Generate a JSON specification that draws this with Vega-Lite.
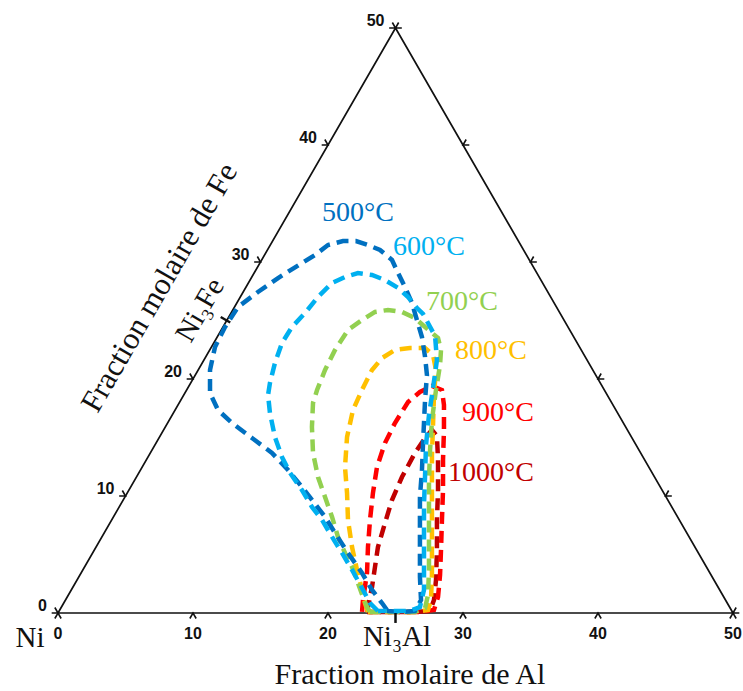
{
  "$schema": "https://vega.github.io/schema/vega-lite/v6.json",
  "width": 675,
  "height": 585,
  "autosize": {"type": "none"},
  "padding": {"left": 58, "top": 28, "right": 10, "bottom": 78},
  "background": "white",
  "config": {"view": {"stroke": null}},
  "datasets": {
    "curves": [
      {"T": "1000°C", "x": 22.89, "y": 0.09},
      {"T": "1000°C", "x": 22.96, "y": 0.51},
      {"T": "1000°C", "x": 23.26, "y": 2.22},
      {"T": "1000°C", "x": 23.48, "y": 3.93},
      {"T": "1000°C", "x": 23.70, "y": 5.64},
      {"T": "1000°C", "x": 24.22, "y": 7.69},
      {"T": "1000°C", "x": 24.74, "y": 9.66},
      {"T": "1000°C", "x": 25.48, "y": 11.62},
      {"T": "1000°C", "x": 26.44, "y": 13.68},
      {"T": "1000°C", "x": 27.19, "y": 14.96},
      {"T": "1000°C", "x": 27.70, "y": 15.64},
      {"T": "1000°C", "x": 28.07, "y": 15.13},
      {"T": "1000°C", "x": 28.15, "y": 13.08},
      {"T": "1000°C", "x": 28.15, "y": 10.51},
      {"T": "1000°C", "x": 28.07, "y": 7.95},
      {"T": "1000°C", "x": 28.07, "y": 5.38},
      {"T": "1000°C", "x": 28.00, "y": 2.82},
      {"T": "1000°C", "x": 27.85, "y": 1.11},
      {"T": "1000°C", "x": 27.56, "y": 0.17},
      {"T": "1000°C", "x": 26.44, "y": 0.09},
      {"T": "1000°C", "x": 24.59, "y": 0.09},
      {"T": "1000°C", "x": 22.89, "y": 0.09},

      {"T": "900°C", "x": 22.52, "y": 0.09},
      {"T": "900°C", "x": 22.59, "y": 1.11},
      {"T": "900°C", "x": 22.89, "y": 3.42},
      {"T": "900°C", "x": 22.96, "y": 5.64},
      {"T": "900°C", "x": 23.11, "y": 7.95},
      {"T": "900°C", "x": 23.33, "y": 10.26},
      {"T": "900°C", "x": 23.63, "y": 12.48},
      {"T": "900°C", "x": 24.22, "y": 14.53},
      {"T": "900°C", "x": 24.96, "y": 16.24},
      {"T": "900°C", "x": 25.93, "y": 18.03},
      {"T": "900°C", "x": 26.81, "y": 18.89},
      {"T": "900°C", "x": 27.70, "y": 19.40},
      {"T": "900°C", "x": 28.44, "y": 19.06},
      {"T": "900°C", "x": 28.59, "y": 17.78},
      {"T": "900°C", "x": 28.59, "y": 15.64},
      {"T": "900°C", "x": 28.52, "y": 13.08},
      {"T": "900°C", "x": 28.52, "y": 10.51},
      {"T": "900°C", "x": 28.44, "y": 7.95},
      {"T": "900°C", "x": 28.37, "y": 5.38},
      {"T": "900°C", "x": 28.30, "y": 3.25},
      {"T": "900°C", "x": 28.15, "y": 1.37},
      {"T": "900°C", "x": 27.85, "y": 0.26},
      {"T": "900°C", "x": 26.81, "y": 0.09},
      {"T": "900°C", "x": 24.59, "y": 0.09},
      {"T": "900°C", "x": 22.52, "y": 0.09},

      {"T": "800°C", "x": 22.96, "y": 0.09},
      {"T": "800°C", "x": 22.74, "y": 0.85},
      {"T": "800°C", "x": 22.52, "y": 1.97},
      {"T": "800°C", "x": 22.15, "y": 3.68},
      {"T": "800°C", "x": 21.78, "y": 5.64},
      {"T": "800°C", "x": 21.48, "y": 7.95},
      {"T": "800°C", "x": 21.41, "y": 10.26},
      {"T": "800°C", "x": 21.26, "y": 12.48},
      {"T": "800°C", "x": 21.41, "y": 15.04},
      {"T": "800°C", "x": 21.85, "y": 17.35},
      {"T": "800°C", "x": 22.52, "y": 19.06},
      {"T": "800°C", "x": 23.26, "y": 20.77},
      {"T": "800°C", "x": 24.00, "y": 21.79},
      {"T": "800°C", "x": 24.96, "y": 22.48},
      {"T": "800°C", "x": 26.07, "y": 22.65},
      {"T": "800°C", "x": 27.19, "y": 22.65},
      {"T": "800°C", "x": 27.78, "y": 22.05},
      {"T": "800°C", "x": 28.00, "y": 20.77},
      {"T": "800°C", "x": 27.85, "y": 18.63},
      {"T": "800°C", "x": 27.78, "y": 16.07},
      {"T": "800°C", "x": 27.70, "y": 13.50},
      {"T": "800°C", "x": 27.70, "y": 10.94},
      {"T": "800°C", "x": 27.70, "y": 8.38},
      {"T": "800°C", "x": 27.70, "y": 5.81},
      {"T": "800°C", "x": 27.70, "y": 3.25},
      {"T": "800°C", "x": 27.63, "y": 1.11},
      {"T": "800°C", "x": 27.41, "y": 0.26},
      {"T": "800°C", "x": 26.44, "y": 0.09},
      {"T": "800°C", "x": 24.59, "y": 0.09},
      {"T": "800°C", "x": 22.96, "y": 0.09},

      {"T": "700°C", "x": 23.11, "y": 0.09},
      {"T": "700°C", "x": 22.89, "y": 0.51},
      {"T": "700°C", "x": 22.59, "y": 1.37},
      {"T": "700°C", "x": 22.22, "y": 2.56},
      {"T": "700°C", "x": 21.78, "y": 3.93},
      {"T": "700°C", "x": 21.26, "y": 5.13},
      {"T": "700°C", "x": 20.74, "y": 6.50},
      {"T": "700°C", "x": 20.30, "y": 8.21},
      {"T": "700°C", "x": 19.78, "y": 9.91},
      {"T": "700°C", "x": 19.26, "y": 11.62},
      {"T": "700°C", "x": 18.89, "y": 13.68},
      {"T": "700°C", "x": 18.81, "y": 15.90},
      {"T": "700°C", "x": 18.89, "y": 17.95},
      {"T": "700°C", "x": 19.19, "y": 19.06},
      {"T": "700°C", "x": 19.78, "y": 20.77},
      {"T": "700°C", "x": 20.52, "y": 22.48},
      {"T": "700°C", "x": 21.48, "y": 24.19},
      {"T": "700°C", "x": 22.52, "y": 25.04},
      {"T": "700°C", "x": 23.48, "y": 25.73},
      {"T": "700°C", "x": 24.44, "y": 25.90},
      {"T": "700°C", "x": 25.48, "y": 25.73},
      {"T": "700°C", "x": 26.44, "y": 25.21},
      {"T": "700°C", "x": 27.19, "y": 24.44},
      {"T": "700°C", "x": 28.15, "y": 23.50},
      {"T": "700°C", "x": 28.37, "y": 22.48},
      {"T": "700°C", "x": 28.30, "y": 21.20},
      {"T": "700°C", "x": 28.00, "y": 19.06},
      {"T": "700°C", "x": 27.70, "y": 16.50},
      {"T": "700°C", "x": 27.56, "y": 13.93},
      {"T": "700°C", "x": 27.48, "y": 11.37},
      {"T": "700°C", "x": 27.48, "y": 8.80},
      {"T": "700°C", "x": 27.48, "y": 6.24},
      {"T": "700°C", "x": 27.48, "y": 3.68},
      {"T": "700°C", "x": 27.41, "y": 1.54},
      {"T": "700°C", "x": 27.19, "y": 0.43},
      {"T": "700°C", "x": 26.44, "y": 0.09},
      {"T": "700°C", "x": 24.59, "y": 0.09},
      {"T": "700°C", "x": 23.11, "y": 0.09},

      {"T": "500°C", "x": 24.37, "y": 0.26},
      {"T": "500°C", "x": 24.00, "y": 0.85},
      {"T": "500°C", "x": 23.26, "y": 1.97},
      {"T": "500°C", "x": 22.52, "y": 3.42},
      {"T": "500°C", "x": 21.48, "y": 5.13},
      {"T": "500°C", "x": 20.52, "y": 6.84},
      {"T": "500°C", "x": 19.78, "y": 8.21},
      {"T": "500°C", "x": 18.81, "y": 9.66},
      {"T": "500°C", "x": 18.07, "y": 10.77},
      {"T": "500°C", "x": 17.04, "y": 12.22},
      {"T": "500°C", "x": 15.85, "y": 13.68},
      {"T": "500°C", "x": 14.37, "y": 14.96},
      {"T": "500°C", "x": 12.89, "y": 16.24},
      {"T": "500°C", "x": 11.85, "y": 17.35},
      {"T": "500°C", "x": 11.26, "y": 18.80},
      {"T": "500°C", "x": 11.26, "y": 20.77},
      {"T": "500°C", "x": 11.63, "y": 22.74},
      {"T": "500°C", "x": 12.37, "y": 24.44},
      {"T": "500°C", "x": 13.33, "y": 26.15},
      {"T": "500°C", "x": 14.81, "y": 27.44},
      {"T": "500°C", "x": 16.30, "y": 28.63},
      {"T": "500°C", "x": 18.07, "y": 29.91},
      {"T": "500°C", "x": 19.04, "y": 30.60},
      {"T": "500°C", "x": 20.00, "y": 31.45},
      {"T": "500°C", "x": 21.11, "y": 31.79},
      {"T": "500°C", "x": 22.07, "y": 31.79},
      {"T": "500°C", "x": 22.96, "y": 31.45},
      {"T": "500°C", "x": 23.85, "y": 31.03},
      {"T": "500°C", "x": 24.74, "y": 30.17},
      {"T": "500°C", "x": 25.19, "y": 29.06},
      {"T": "500°C", "x": 25.70, "y": 27.86},
      {"T": "500°C", "x": 26.22, "y": 26.50},
      {"T": "500°C", "x": 26.59, "y": 25.04},
      {"T": "500°C", "x": 26.96, "y": 23.59},
      {"T": "500°C", "x": 27.19, "y": 21.88},
      {"T": "500°C", "x": 27.33, "y": 20.34},
      {"T": "500°C", "x": 27.19, "y": 18.21},
      {"T": "500°C", "x": 27.04, "y": 14.53},
      {"T": "500°C", "x": 26.96, "y": 12.22},
      {"T": "500°C", "x": 26.81, "y": 9.91},
      {"T": "500°C", "x": 26.81, "y": 7.69},
      {"T": "500°C", "x": 26.81, "y": 5.38},
      {"T": "500°C", "x": 26.81, "y": 3.08},
      {"T": "500°C", "x": 26.89, "y": 1.11},
      {"T": "500°C", "x": 26.44, "y": 0.17},
      {"T": "500°C", "x": 25.33, "y": 0.09},
      {"T": "500°C", "x": 24.37, "y": 0.17},

      {"T": "600°C", "x": 23.70, "y": 0.17},
      {"T": "600°C", "x": 23.11, "y": 0.85},
      {"T": "600°C", "x": 22.52, "y": 2.14},
      {"T": "600°C", "x": 21.78, "y": 3.68},
      {"T": "600°C", "x": 21.04, "y": 5.13},
      {"T": "600°C", "x": 20.30, "y": 6.50},
      {"T": "600°C", "x": 19.56, "y": 7.95},
      {"T": "600°C", "x": 18.81, "y": 9.06},
      {"T": "600°C", "x": 18.07, "y": 10.51},
      {"T": "600°C", "x": 17.19, "y": 11.97},
      {"T": "600°C", "x": 16.59, "y": 13.33},
      {"T": "600°C", "x": 16.07, "y": 15.04},
      {"T": "600°C", "x": 15.70, "y": 17.09},
      {"T": "600°C", "x": 15.56, "y": 18.63},
      {"T": "600°C", "x": 15.70, "y": 19.66},
      {"T": "600°C", "x": 16.07, "y": 21.37},
      {"T": "600°C", "x": 16.59, "y": 23.08},
      {"T": "600°C", "x": 17.33, "y": 24.44},
      {"T": "600°C", "x": 18.30, "y": 25.64},
      {"T": "600°C", "x": 19.26, "y": 27.01},
      {"T": "600°C", "x": 20.30, "y": 28.21},
      {"T": "600°C", "x": 21.26, "y": 28.72},
      {"T": "600°C", "x": 22.22, "y": 29.06},
      {"T": "600°C", "x": 23.26, "y": 28.89},
      {"T": "600°C", "x": 24.22, "y": 28.46},
      {"T": "600°C", "x": 25.19, "y": 27.78},
      {"T": "600°C", "x": 25.93, "y": 27.01},
      {"T": "600°C", "x": 26.59, "y": 26.07},
      {"T": "600°C", "x": 27.04, "y": 25.56},
      {"T": "600°C", "x": 27.93, "y": 23.68},
      {"T": "600°C", "x": 28.07, "y": 21.62},
      {"T": "600°C", "x": 27.78, "y": 19.23},
      {"T": "600°C", "x": 27.48, "y": 16.92},
      {"T": "600°C", "x": 27.26, "y": 14.36},
      {"T": "600°C", "x": 27.19, "y": 11.79},
      {"T": "600°C", "x": 27.11, "y": 9.23},
      {"T": "600°C", "x": 27.11, "y": 6.67},
      {"T": "600°C", "x": 27.11, "y": 4.10},
      {"T": "600°C", "x": 27.11, "y": 1.97},
      {"T": "600°C", "x": 26.81, "y": 0.51},
      {"T": "600°C", "x": 26.07, "y": 0.17},
      {"T": "600°C", "x": 24.96, "y": 0.17},
      {"T": "600°C", "x": 23.70, "y": 0.17}
    ],
    "tempLabels": [
      {"T": "500°C", "x": 22.22, "y": 34.19},
      {"T": "600°C", "x": 27.48, "y": 31.28},
      {"T": "700°C", "x": 29.93, "y": 26.58},
      {"T": "800°C", "x": 32.07, "y": 22.39},
      {"T": "900°C", "x": 32.59, "y": 17.09},
      {"T": "1000°C", "x": 32.07, "y": 11.97}
    ],
    "bottomTicks": [
      {"x": 0, "y": 0, "label": "0"},
      {"x": 10, "y": 0, "label": "10"},
      {"x": 20, "y": 0, "label": "20"},
      {"x": 30, "y": 0, "label": "30"},
      {"x": 40, "y": 0, "label": "40"},
      {"x": 50, "y": 0, "label": "50"}
    ],
    "leftTicks": [
      {"x": 0, "y": 0, "label": "0"},
      {"x": 5, "y": 10, "label": "10"},
      {"x": 10, "y": 20, "label": "20"},
      {"x": 15, "y": 30, "label": "30"},
      {"x": 20, "y": 40, "label": "40"},
      {"x": 25, "y": 50, "label": "50"}
    ],
    "rightTicks": [
      {"x": 50, "y": 0},
      {"x": 45, "y": 10},
      {"x": 40, "y": 20},
      {"x": 35, "y": 30},
      {"x": 30, "y": 40},
      {"x": 25, "y": 50}
    ]
  },
  "layer": [
    {
      "data": {"values": [{"x": 0, "y": 0}, {"x": 50, "y": 0}, {"x": 25, "y": 50}, {"x": 0, "y": 0}]},
      "mark": {"type": "line", "color": "#111111", "strokeWidth": 1.7},
      "encoding": {
        "x": {"field": "x", "type": "quantitative", "scale": {"domain": [0, 50], "nice": false, "zero": false}, "axis": null},
        "y": {"field": "y", "type": "quantitative", "scale": {"domain": [0, 50], "nice": false, "zero": false}, "axis": null},
        "order": {"value": null}
      }
    },
    {
      "data": {"name": "curves"},
      "mark": {"type": "line", "strokeWidth": 4.5, "strokeDash": [12, 7], "strokeCap": "butt"},
      "encoding": {
        "x": {"field": "x", "type": "quantitative"},
        "y": {"field": "y", "type": "quantitative"},
        "color": {"field": "T", "type": "nominal", "legend": null,
          "scale": {"domain": ["500°C", "600°C", "700°C", "800°C", "900°C", "1000°C"],
                    "range": ["#0070C0", "#00B0F0", "#92D050", "#FFC000", "#FF0000", "#C00000"]}},
        "order": {"value": null}
      }
    },
    {
      "data": {"name": "bottomTicks"},
      "mark": {"type": "point", "shape": "M-0.5,0.866L0,0L0.5,0.866", "filled": false, "size": 160, "strokeWidth": 1.6, "color": "#111111", "opacity": 1},
      "encoding": {"x": {"field": "x", "type": "quantitative"}, "y": {"field": "y", "type": "quantitative"}}
    },
    {
      "data": {"name": "leftTicks"},
      "mark": {"type": "point", "shape": "M-1,0L0,0L-0.5,-0.866", "filled": false, "size": 160, "strokeWidth": 1.6, "color": "#111111", "opacity": 1},
      "encoding": {"x": {"field": "x", "type": "quantitative"}, "y": {"field": "y", "type": "quantitative"}}
    },
    {
      "data": {"name": "rightTicks"},
      "mark": {"type": "point", "shape": "M1,0L0,0L0.5,-0.866", "filled": false, "size": 160, "strokeWidth": 1.6, "color": "#111111", "opacity": 1},
      "encoding": {"x": {"field": "x", "type": "quantitative"}, "y": {"field": "y", "type": "quantitative"}}
    },
    {
      "data": {"name": "bottomTicks"},
      "mark": {"type": "text", "font": "Liberation Sans", "fontWeight": "bold", "fontSize": 16, "color": "#111111", "align": "center", "baseline": "middle", "dy": 21},
      "encoding": {"x": {"field": "x", "type": "quantitative"}, "y": {"field": "y", "type": "quantitative"}, "text": {"field": "label"}}
    },
    {
      "data": {"name": "leftTicks"},
      "mark": {"type": "text", "font": "Liberation Sans", "fontWeight": "bold", "fontSize": 16, "color": "#111111", "align": "right", "baseline": "alphabetic", "dx": -11, "dy": -2},
      "encoding": {"x": {"field": "x", "type": "quantitative"}, "y": {"field": "y", "type": "quantitative"}, "text": {"field": "label"}}
    },
    {
      "data": {"values": [{"x": 25, "y": 0, "x2": 25, "y2": -0.85}, {"x": 12.76, "y": 24.83, "x2": 12.05, "y2": 25.3}]},
      "mark": {"type": "rule", "color": "#111111", "strokeWidth": 2.5},
      "encoding": {"x": {"field": "x", "type": "quantitative"}, "y": {"field": "y", "type": "quantitative"}, "x2": {"field": "x2"}, "y2": {"field": "y2"}}
    },
    {
      "data": {"name": "tempLabels"},
      "mark": {"type": "text", "font": "Liberation Serif", "fontSize": 28, "align": "center", "baseline": "middle"},
      "encoding": {"x": {"field": "x", "type": "quantitative"}, "y": {"field": "y", "type": "quantitative"}, "text": {"field": "T"},
        "color": {"field": "T", "type": "nominal", "legend": null}}
    },
    {
      "data": {"values": [
        {"x": 26.07, "y": -6.07, "label": "Fraction molaire de Al"}
      ]},
      "mark": {"type": "text", "font": "Liberation Serif", "fontSize": 30, "color": "#111111", "align": "center", "baseline": "alphabetic"},
      "encoding": {"x": {"field": "x", "type": "quantitative"}, "y": {"field": "y", "type": "quantitative"}, "text": {"field": "label"}}
    },
    {
      "data": {"values": [
        {"x": -2.07, "y": -2.14, "label": "Ni"},
        {"x": 25.11, "y": -2.05, "label": "Ni₃Al"}
      ]},
      "mark": {"type": "text", "font": "Liberation Serif", "fontSize": 29, "color": "#111111", "align": "center", "baseline": "middle"},
      "encoding": {"x": {"field": "x", "type": "quantitative"}, "y": {"field": "y", "type": "quantitative"}, "text": {"field": "label"}}
    },
    {
      "data": {"values": [
        {"x": 7.56, "y": 27.78, "label": "Fraction molaire de Fe", "s": 31},
        {"x": 10.52, "y": 25.9, "label": "Ni₃Fe", "s": 29}
      ]},
      "mark": {"type": "text", "font": "Liberation Serif", "color": "#111111", "align": "center", "baseline": "middle", "angle": -60},
      "encoding": {"x": {"field": "x", "type": "quantitative"}, "y": {"field": "y", "type": "quantitative"}, "text": {"field": "label"},
        "size": {"field": "s", "type": "quantitative", "scale": null, "legend": null}}
    }
  ]
}
